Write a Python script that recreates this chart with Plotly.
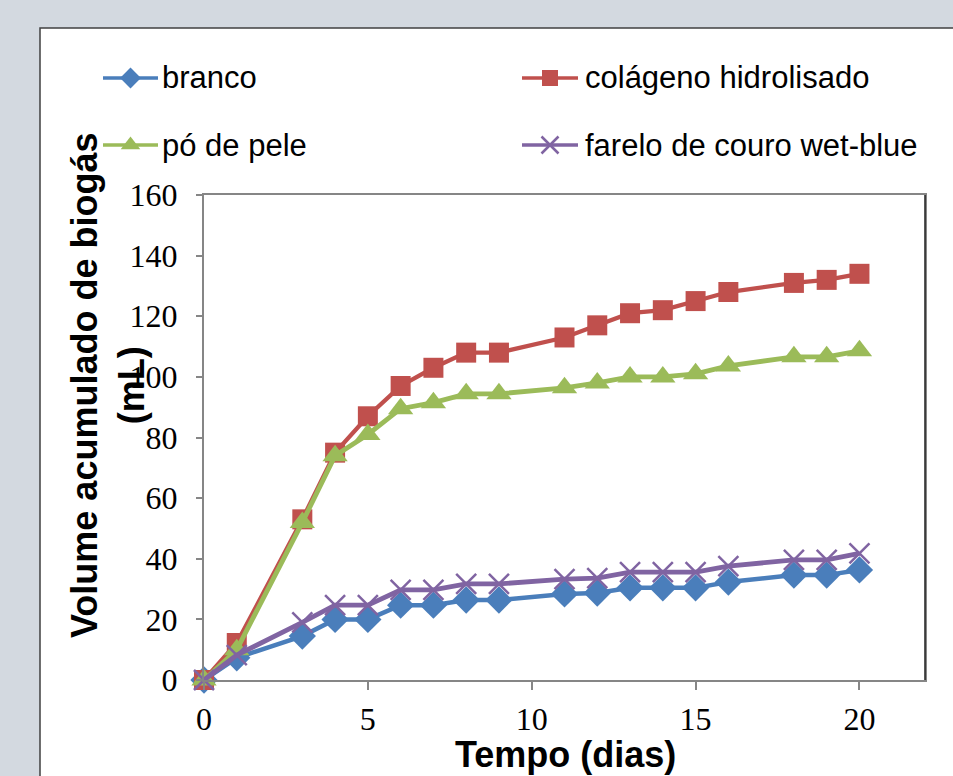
import plotly.graph_objects as go

# ---------------- data ----------------
days = [0, 1, 3, 4, 5, 6, 7, 8, 9, 11, 12, 13, 14, 15, 16, 18, 19, 20]
branco = [0, 7.3, 14.5, 20, 20, 24.7, 24.7, 26.4, 26.4, 28.4, 28.7, 30.4, 30.4, 30.4, 32.3, 34.6, 34.6, 36.3]
colageno = [0, 12.2, 53, 75, 87, 97, 103, 108, 108, 113, 117, 121, 122, 125, 128, 131, 132, 134]
po_pele = [0, 10, 52, 74, 81, 89.5, 91.5, 94.4, 94.4, 96.4, 98, 100, 100, 101, 103.6, 106.6, 106.6, 108.6]
farelo = [0, 8.2, 19, 24.7, 24.7, 29.7, 29.7, 31.7, 31.7, 33.3, 33.6, 35.6, 35.6, 35.6, 37.6, 39.6, 39.6, 41.8]
series_names = ["branco", "colágeno hidrolisado", "pó de pele", "farelo de couro wet-blue"]
x_ticks = [0, 5, 10, 15, 20]
y_ticks = [0, 20, 40, 60, 80, 100, 120, 140, 160]
x_title = "Tempo (dias)"
y_title = "Volume acumulado de biogás<br>(mL)"

# ---------------- layout constants (pixels) ----------------
W, H = 953, 776
PL, PR, PT, PB = 204, 925, 195, 680   # plot area edges


def fx(p):
    return p / W


def fy(p):
    return (H - p) / H


colors = ["#4A7EBB", "#C0504D", "#9BBB59", "#8064A2"]
symbols = ["diamond", "square", "triangle-up", "x-thin"]
msizes = [21, 20, 22, 20]
leg_msizes = [16, 16, 17, 17]
lwidths = [4.5, 4.3, 4.8, 4.8]
values = [branco, colageno, po_pele, farelo]


def make_marker(s, ms, c):
    m = dict(symbol=s, size=ms, color=c, line=dict(width=0, color=c))
    if s == "x-thin":
        m["line"] = dict(width=2.5, color=c)
    return m


fig = go.Figure()

for name, vals, c, s, ms, lw in zip(series_names, values, colors, symbols, msizes, lwidths):
    fig.add_trace(go.Scatter(
        x=days, y=vals, mode="lines+markers", name=name,
        line=dict(color=c, width=lw), marker=make_marker(s, ms, c),
        showlegend=False, cliponaxis=False,
    ))

# ---------------- manual legend (on a full-figure pixel axis) ----------------
leg_rows = [78, 145]
leg_cols = [(103, 158, 160), (522, 578, 583)]
leg_pos = [(0, 0), (0, 1), (1, 0), (1, 1)]  # (row, col) per series
shapes = []
annotations = []
for (r, cidx), name, c, s, ms in zip(leg_pos, series_names, colors, symbols, leg_msizes):
    x0, x1, xt = leg_cols[cidx]
    yy = leg_rows[r]
    fig.add_trace(go.Scatter(
        x=[x0, x1], y=[yy, yy], mode="lines", line=dict(color=c, width=3.5),
        xaxis="x2", yaxis="y2", showlegend=False, hoverinfo="skip",
    ))
    fig.add_trace(go.Scatter(
        x=[(x0 + x1) / 2], y=[yy], mode="markers", marker=make_marker(s, ms, c),
        xaxis="x2", yaxis="y2", showlegend=False, hoverinfo="skip",
    ))
    annotations.append(dict(text=name, xref="paper", yref="paper", x=fx(xt), y=fy(yy),
                            xanchor="left", yanchor="middle", showarrow=False,
                            font=dict(family="Arial, Liberation Sans", size=31, color="black")))

# white panel behind the chart
shapes.append(dict(type="rect", xref="paper", yref="paper", layer="below",
                   x0=fx(40), x1=fx(W + 20), y0=fy(H + 20), y1=fy(28),
                   fillcolor="white", line=dict(color="#404040", width=1.5)))
# right frame edge (darker)
shapes.append(dict(type="line", xref="paper", yref="paper",
                   x0=fx(PR), x1=fx(PR), y0=fy(PB), y1=fy(PT),
                   line=dict(color="#202020", width=1.5)))

annotations.append(dict(text=y_title, xref="paper", yref="paper",
                        x=fx(108), y=fy(386), xanchor="center", yanchor="middle",
                        textangle=-90, showarrow=False,
                        font=dict(family="Arial, Liberation Sans", size=36, color="black", weight="bold")))
annotations.append(dict(text=x_title, xref="paper", yref="paper",
                        x=fx(565), y=fy(777), xanchor="center", yanchor="bottom",
                        showarrow=False,
                        font=dict(family="Arial, Liberation Sans", size=36, color="black", weight="bold")))

tick_font = dict(family="Times New Roman, Liberation Serif", size=32, color="black")

fig.update_layout(
    width=W, height=H,
    margin=dict(l=0, r=0, t=0, b=0, pad=0),
    paper_bgcolor="#d3d9e0",
    plot_bgcolor="rgba(0,0,0,0)",
    showlegend=False,
    shapes=shapes,
    annotations=annotations,
    xaxis=dict(domain=[fx(PL), fx(PR)], range=[0, 22], tickvals=x_ticks,
               ticktext=[str(t) for t in x_ticks],
               showgrid=False, zeroline=False, showline=True, linecolor="#868686", linewidth=2,
               mirror=True, ticks="outside", ticklen=8, tickwidth=1.5, tickcolor="#868686",
               tickfont=tick_font, ticklabelstandoff=2, automargin=False),
    yaxis=dict(domain=[fy(PB), fy(PT)], range=[0, 160], tickvals=y_ticks,
               ticktext=[str(t) for t in y_ticks],
               showgrid=False, zeroline=False, showline=True, linecolor="#868686", linewidth=2,
               mirror=True, ticks="outside", ticklen=6, tickwidth=1.5, tickcolor="#868686",
               tickfont=tick_font, ticklabelstandoff=12, automargin=False),
    xaxis2=dict(domain=[0, 1], anchor="y2", range=[0, W], visible=False, fixedrange=True),
    yaxis2=dict(domain=[0, 1], anchor="x2", range=[H, 0], visible=False, fixedrange=True),
)

fig.write_html("out.html")
